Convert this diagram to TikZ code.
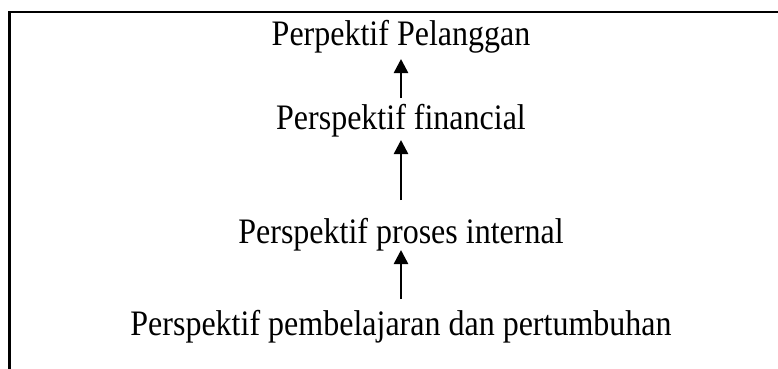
\documentclass[tikz,border=0pt]{standalone}
\usepackage{fontspec}
\setmainfont{Liberation Serif}
\usetikzlibrary{arrows.meta, positioning}

\newcommand{\tall}[1]{\scalebox{1}[1.12]{#1}}

\begin{document}
\begin{tikzpicture}[x=1pt, y=-1pt, line join=miter, >={Triangle[length=14pt,width=14pt]}]
	\useasboundingbox (0,0) rectangle (778,368);
	\clip (0,0) rectangle (778,368);
	\tikzset{persp/.style={inner sep=0pt, anchor=base, font=\fontsize{32}{38}\selectfont}}
	\tikzset{up/.style={->, line width=2.5pt}}
	% frame (cut off at the right and at the bottom)
	\draw[line width=2.5pt] (9.5,400) |- (800,12);
	
	% the four perspectives
	\node[persp] (pel) at (401,45) {\tall{Perpektif Pelanggan}};
	\node[persp] (fin) at (401,129) {\tall{Perspektif financial}};
	\node[persp] (pro) at (401,243) {\tall{Perspektif proses internal}};
	\node[persp] (bel) at (401,335) {\tall{Perspektif pembelajaran dan pertumbuhan}};
	
	\draw[up] ([yshift=31pt]fin.base) -- ([yshift=-14pt]pel.base);
	\draw[up] ([yshift=43pt]pro.base) -- ([yshift=-11pt]fin.base);
	\draw[up] ([yshift=36pt]bel.base) -- ([yshift=-7pt]pro.base);
\end{tikzpicture}
\end{document}
